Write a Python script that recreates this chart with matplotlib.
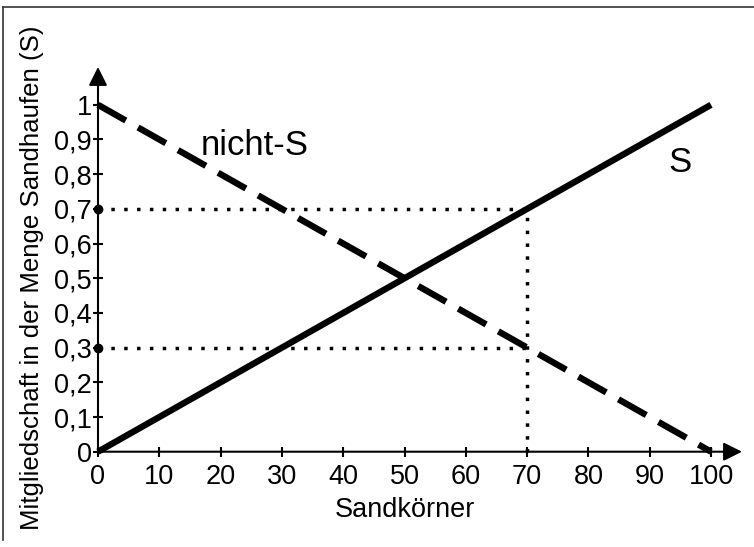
import numpy as np
import matplotlib.pyplot as plt
from matplotlib.lines import Line2D

plt.rcParams['font.family'] = ['Liberation Sans', 'DejaVu Sans']

# data
sandkoerner = [0, 100]
s_werte = [0, 1]
nicht_s_werte = [1, 0]
x_beispiel = 70
y_beispiel = [0.7, 0.3]

x_ticks = list(range(0, 101, 10))
y_ticks = [0, 0.1, 0.2, 0.3, 0.4, 0.5, 0.6, 0.7, 0.8, 0.9, 1]
y_labels = ["0", "0,1", "0,2", "0,3", "0,4", "0,5", "0,6", "0,7", "0,8", "0,9", "1"]

fig = plt.figure(figsize=(7.54, 5.47), dpi=100)
ax = fig.add_axes([0.12997, 0.17422, 0.8541, 0.7033])
ax.set_xlim(0, 105.05)
ax.set_ylim(0, 1.109)

for sp in ax.spines.values():
    sp.set_visible(False)

# axes with arrows
ax.annotate('', xy=(1, 0), xytext=(0, 0), xycoords='axes fraction',
            arrowprops=dict(arrowstyle='-|>', color='k', lw=1.5, mutation_scale=28,
                            shrinkA=0, shrinkB=0))
ax.annotate('', xy=(0, 1), xytext=(0, 0), xycoords='axes fraction',
            arrowprops=dict(arrowstyle='-|>', color='k', lw=1.5, mutation_scale=28,
                            shrinkA=0, shrinkB=0))

# dotted helper lines
for yv in y_beispiel:
    ax.plot([0, x_beispiel], [yv, yv], color='k', lw=2.5, dashes=(1, 2.7), clip_on=False)
ax.plot([x_beispiel, x_beispiel], [0, max(y_beispiel)], color='k', lw=2.5, dashes=(1, 2.7), clip_on=False)
ax.plot([0] * len(y_beispiel), y_beispiel, 'o', color='k', ms=6, clip_on=False)

ax.plot(sandkoerner, s_werte, color='k', lw=4.6, solid_capstyle='butt', clip_on=False)
ax.plot(sandkoerner, nicht_s_werte, color='k', lw=4.6, dashes=(5, 2.2), clip_on=False)

ax.text(25.6, 0.884, "nicht-S", fontsize=25, ha='center', va='center')
ax.text(95, 0.835, "S", fontsize=25, ha='center', va='center')

ax.set_xticks(x_ticks)
ax.set_xticklabels([str(v) for v in x_ticks])
ax.set_yticks(y_ticks)
ax.set_yticklabels(y_labels)
ax.tick_params(direction='inout', length=7, width=1.5, labelsize=19.5)
ax.tick_params(axis='x', pad=5)
ax.tick_params(axis='y', pad=1)

fig.text(0.537, 0.068, "Sandkörner", fontsize=19.5, ha='center', va='center')
fig.text(0.042, 0.4918, "Mitgliedschaft in der Menge Sandhaufen (S)", fontsize=18.6,
         rotation=90, ha='center', va='center')

# frame (top and left edges)
fig.add_artist(Line2D([0.0046, 1.0], [0.9872, 0.9872], color='#333333', lw=1.2))
fig.add_artist(Line2D([0.0046, 0.0046], [0.0128, 0.9872], color='#333333', lw=1.2))

fig.savefig("out.png", dpi=100)
